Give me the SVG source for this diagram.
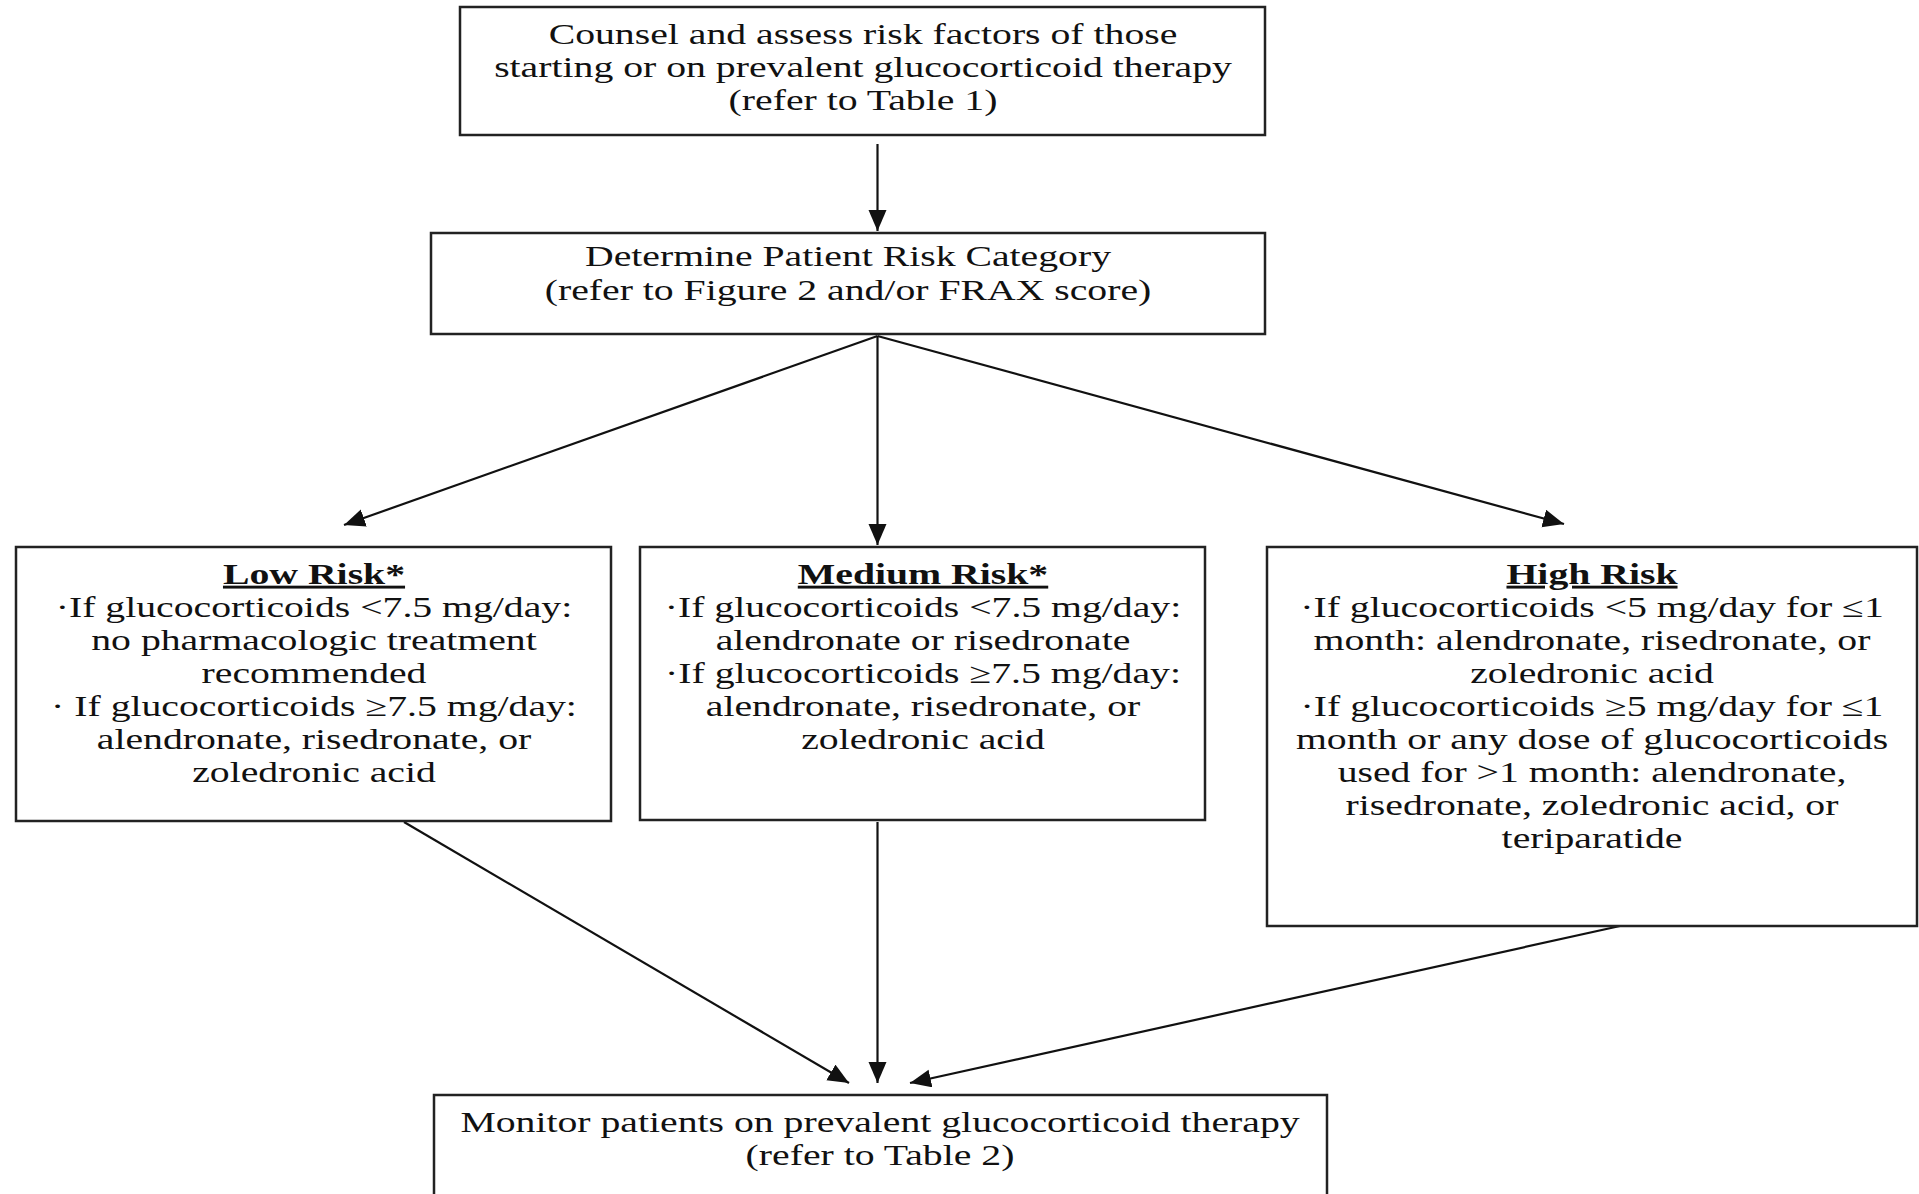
<svg xmlns="http://www.w3.org/2000/svg" width="1919" height="1194" viewBox="0 0 1919 1194">
<style>
.box{fill:#fff;stroke:#222;stroke-width:2.5}
.t{font-family:"Liberation Serif","Times New Roman",serif;font-size:29px;fill:#111;text-anchor:middle}
.h{font-weight:bold;text-decoration:underline}
.c{stroke:#111;stroke-width:2.2;fill:none;marker-end:url(#ah)}
</style>
<defs>
<marker id="ah" markerUnits="userSpaceOnUse" markerWidth="24" markerHeight="20" refX="21" refY="9" orient="auto">
<path d="M0,0 L21,9 L0,18 Z" fill="#111"/>
</marker>
</defs>
<rect width="1919" height="1194" fill="#fff"/>
<g id="connectors">
<line class="c" x1="877.5" y1="144" x2="877.5" y2="231"/>
<line class="c" x1="877.5" y1="336" x2="344" y2="525"/>
<line class="c" x1="877.5" y1="336" x2="877.5" y2="545"/>
<line class="c" x1="877.5" y1="336" x2="1564" y2="524"/>
<line class="c" x1="404" y1="822" x2="849" y2="1083"/>
<line class="c" x1="877.5" y1="822" x2="877.5" y2="1083"/>
<line class="c" x1="1620" y1="926" x2="910" y2="1083"/>
</g>
<g id="counsel">
<rect class="box" x="460" y="7" width="805" height="128"/>
<g transform="translate(863,0) scale(1.37,1)">
<text class="t" x="0" y="44">Counsel and assess risk factors of those</text>
<text class="t" x="0" y="77">starting or on prevalent glucocorticoid therapy</text>
<text class="t" x="0" y="110">(refer to Table 1)</text>
</g>
</g>
<g id="determine">
<rect class="box" x="431" y="233" width="834" height="101"/>
<g transform="translate(848,0) scale(1.37,1)">
<text class="t" x="0" y="266">Determine Patient Risk Category</text>
<text class="t" x="0" y="300">(refer to Figure 2 and/or FRAX score)</text>
</g>
</g>
<g id="low">
<rect class="box" x="16" y="547" width="595" height="274"/>
<g transform="translate(314,0) scale(1.37,1)">
<text class="t h" x="0" y="584">Low Risk*</text>
<text class="t" x="0" y="617">·If glucocorticoids &lt;7.5 mg/day:</text>
<text class="t" x="0" y="650">no pharmacologic treatment</text>
<text class="t" x="0" y="683">recommended</text>
<text class="t" x="0" y="716">· If glucocorticoids ≥7.5 mg/day:</text>
<text class="t" x="0" y="749">alendronate, risedronate, or</text>
<text class="t" x="0" y="782">zoledronic acid</text>
</g>
</g>
<g id="medium">
<rect class="box" x="640" y="547" width="565" height="273"/>
<g transform="translate(923,0) scale(1.37,1)">
<text class="t h" x="0" y="584">Medium Risk*</text>
<text class="t" x="0" y="617">·If glucocorticoids &lt;7.5 mg/day:</text>
<text class="t" x="0" y="650">alendronate or risedronate</text>
<text class="t" x="0" y="683">·If glucocorticoids ≥7.5 mg/day:</text>
<text class="t" x="0" y="716">alendronate, risedronate, or</text>
<text class="t" x="0" y="749">zoledronic acid</text>
</g>
</g>
<g id="high">
<rect class="box" x="1267" y="547" width="650" height="379"/>
<g transform="translate(1592,0) scale(1.37,1)">
<text class="t h" x="0" y="584">High Risk</text>
<text class="t" x="0" y="617">·If glucocorticoids &lt;5 mg/day for ≤1</text>
<text class="t" x="0" y="650">month: alendronate, risedronate, or</text>
<text class="t" x="0" y="683">zoledronic acid</text>
<text class="t" x="0" y="716">·If glucocorticoids ≥5 mg/day for ≤1</text>
<text class="t" x="0" y="749">month or any dose of glucocorticoids</text>
<text class="t" x="0" y="782">used for &gt;1 month: alendronate,</text>
<text class="t" x="0" y="815">risedronate, zoledronic acid, or</text>
<text class="t" x="0" y="848">teriparatide</text>
</g>
</g>
<g id="monitor">
<rect class="box" x="434" y="1095" width="893" height="130"/>
<g transform="translate(880,0) scale(1.37,1)">
<text class="t" x="0" y="1132">Monitor patients on prevalent glucocorticoid therapy</text>
<text class="t" x="0" y="1165">(refer to Table 2)</text>
</g>
</g>
</svg>
